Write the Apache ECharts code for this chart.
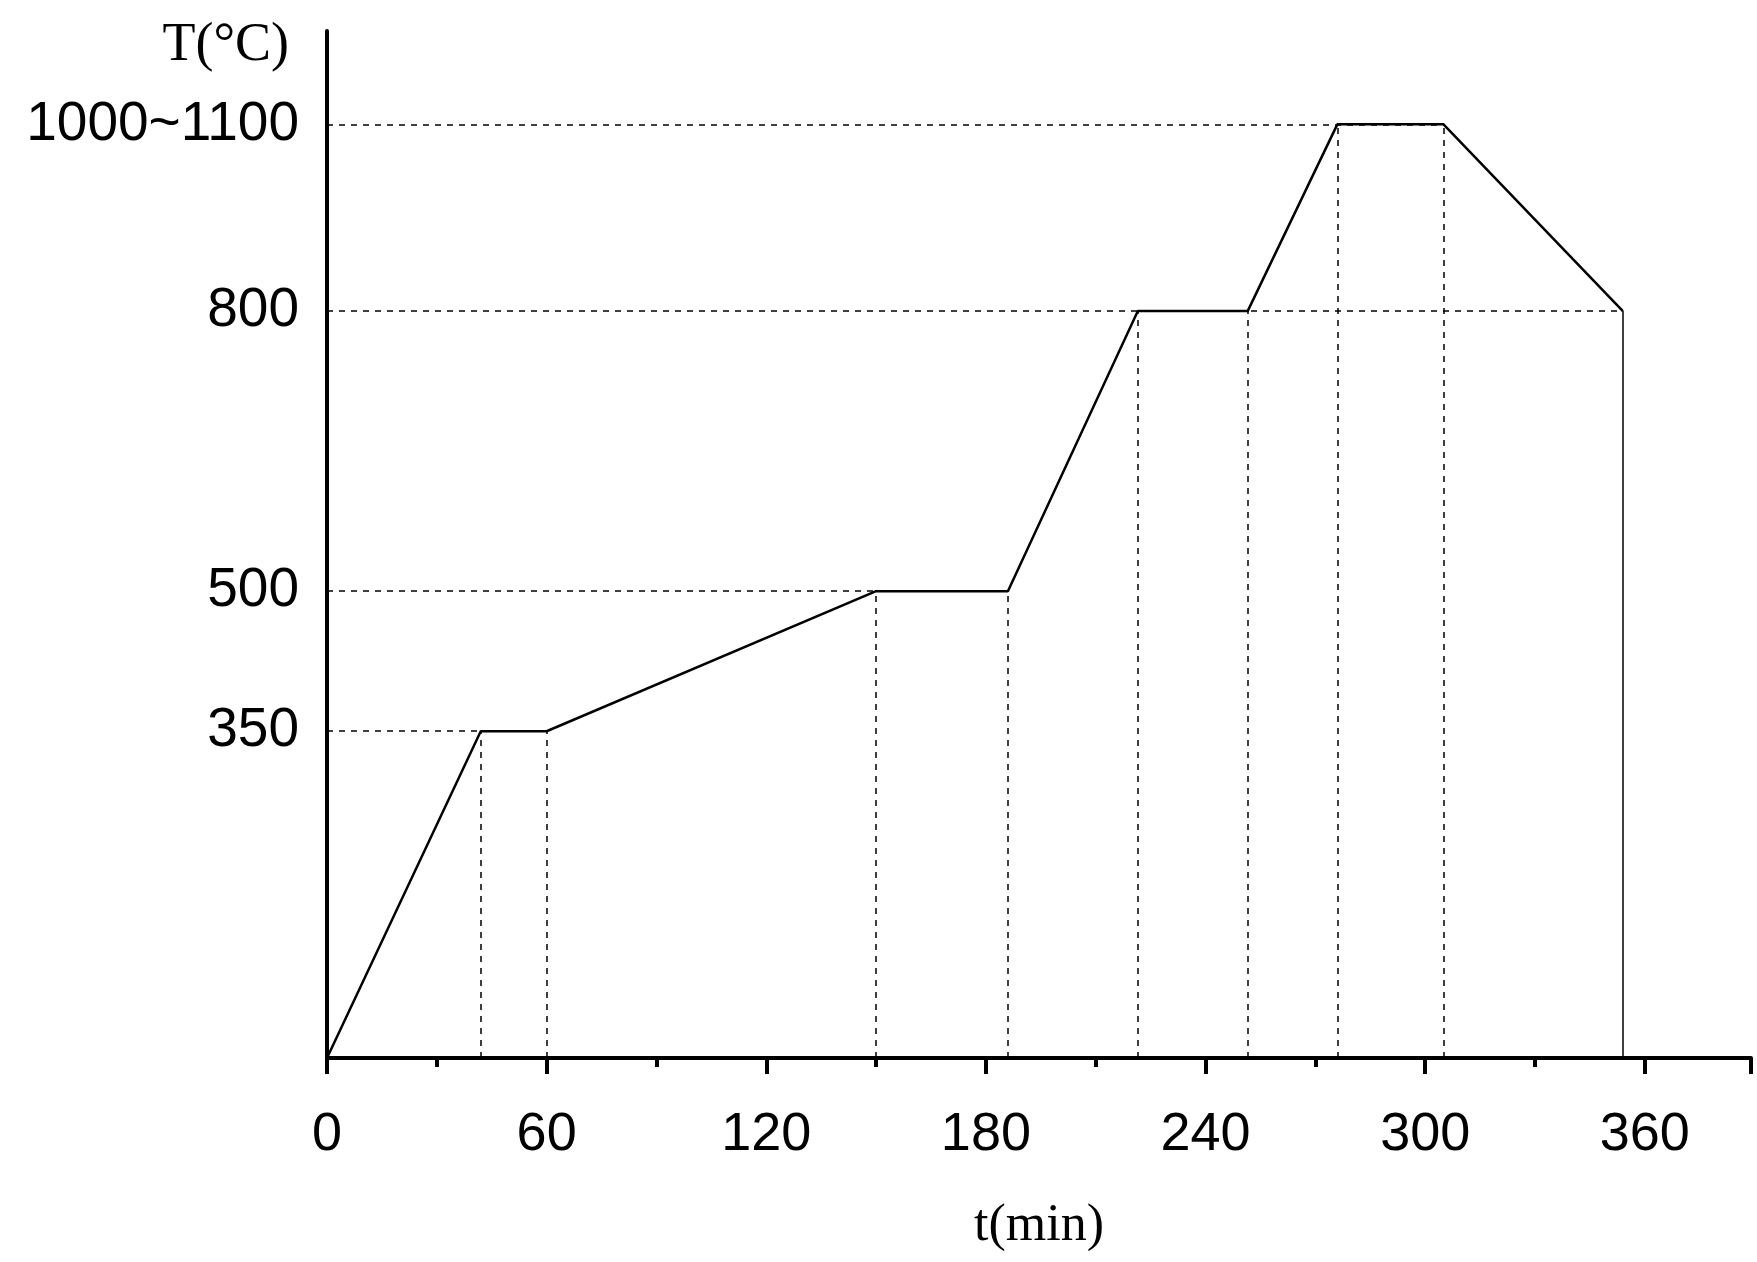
<!DOCTYPE html>
<html><head><meta charset="utf-8">
<script src="https://cdn.jsdelivr.net/npm/echarts@6/dist/echarts.min.js"></script>
<style>html,body{margin:0;padding:0;background:#fff}#c{width:1757px;height:1262px}</style>
</head><body><div id="c"></div>
<script>
const times = [0, 42, 60, 150, 186, 221.5, 251.5, 276, 305, 354];
const temps = [0, 350, 350, 500, 500, 800, 800, 1000, 1000, 800];
const yTickValues = [350, 500, 800, 1000];
const yTickLabels = {350: '350', 500: '500', 800: '800', 1000: '1000~1100'};
const xTickLabels = [0, 60, 120, 180, 240, 300, 360];

const pts = times.map((t, i) => [t, temps[i]]);
const dash = {type: [6, 6], width: 1.5, color: '#000'};
const ml = [];
const seen = {};
pts.forEach(p => { if (p[1] > 0 && !seen[p[1]]) { seen[p[1]] = 1; } });
Object.keys(seen).forEach(v => {
  const xs = pts.filter(p => p[1] == v).map(p => p[0]);
  ml.push([{coord: [0, +v], lineStyle: dash}, {coord: [Math.max(...xs), +v]}]);
});
pts.slice(1, -1).forEach(p => ml.push([{coord: [p[0], 0], lineStyle: dash}, {coord: [p[0], p[1]]}]));
const last = pts[pts.length - 1];
ml.push([{coord: [last[0], 0], lineStyle: {type: 'solid', width: 1.5, color: '#000'}}, {coord: [last[0], last[1]]}]);

const chart = echarts.init(document.getElementById('c'));
chart.setOption({
  backgroundColor: '#fff',
  animation: false,
  grid: {left: 327, right: 6, top: 31, bottom: 204},
  xAxis: {
    type: 'value', min: 0, max: 389, interval: 60,
    axisLine: {lineStyle: {color: '#000', width: 4}},
    axisTick: {show: true, length: 16, lineStyle: {color: '#000', width: 4}},
    minorTick: {show: true, splitNumber: 2, length: 9, lineStyle: {color: '#000', width: 4}},
    splitLine: {show: false},
    axisLabel: {color: '#000', fontSize: 54, fontFamily: 'Liberation Sans', margin: 50, showMaxLabel: false,
      formatter: v => xTickLabels.includes(v) ? String(v) : ''},
    name: 't(min)', nameLocation: 'middle', nameGap: 142,
    nameTextStyle: {color: '#000', fontSize: 52, fontFamily: 'Liberation Serif'}
  },
  yAxis: {
    type: 'value', min: 0, max: 1100,
    axisLine: {show: true, lineStyle: {color: '#000', width: 4}},
    axisTick: {show: false}, splitLine: {show: false},
    axisLabel: {color: '#000', fontSize: 55, fontFamily: 'Liberation Sans', margin: 28,
      customValues: yTickValues, formatter: v => yTickLabels[v] || ''},
    name: 'T(°C)', nameLocation: 'end', nameGap: 0,
    nameTextStyle: {color: '#000', fontSize: 54, fontFamily: 'Liberation Serif', align: 'right', verticalAlign: 'top', padding: [-12, 38, 0, 0]}
  },
  series: [{
    type: 'line', data: pts, symbol: 'none',
    lineStyle: {color: '#000', width: 2.5},
    markLine: {silent: true, symbol: 'none', label: {show: false}, data: ml}
  }]
});
</script></body></html>
